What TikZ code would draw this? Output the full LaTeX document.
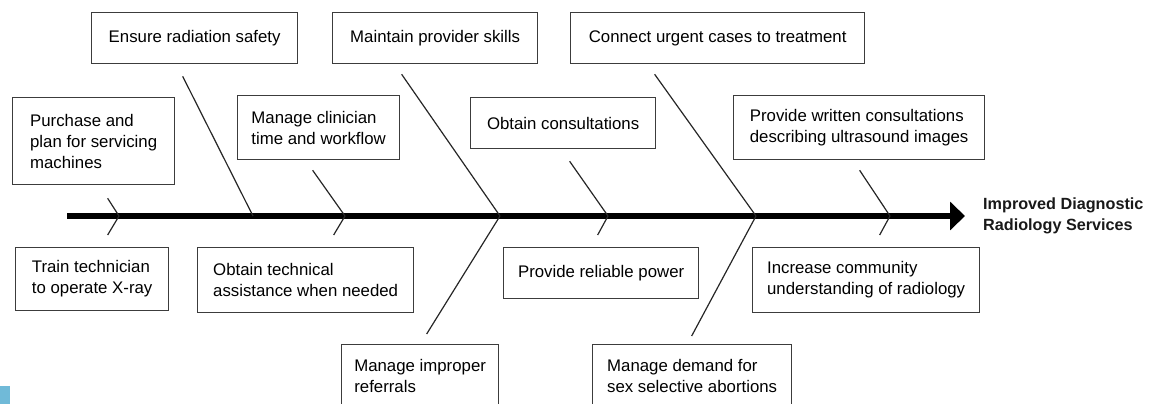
\documentclass[tikz,border=0pt]{standalone}
\usepackage{fontspec}
\setmainfont{Liberation Sans}
\usepackage{tikz}
\usetikzlibrary{arrows.meta}
\definecolor{cornerblue}{RGB}{112,186,216}
\definecolor{boxgray}{RGB}{60,60,60}

\begin{document}
\begin{tikzpicture}[x=1pt,y=-1pt]
	\tikzstyle{BoxStyle}   = [draw=boxgray, line width=1.3pt, anchor=north west, align=left, inner sep=0pt, font=\fontsize{16.8}{21}\selectfont]
	\tikzstyle{BoneStyle}  = [line width=1.2pt, black!85]
	\tikzstyle{SpineStyle} = [line width=5.5pt, -{Triangle[length=15pt,width=28pt]}, shorten >=18pt]
	\useasboundingbox (0,0) rectangle (1152,404);
	\clip (0,0) rectangle (1152,404);
	\fill[cornerblue] (0,386) rectangle (10,404);
	% upper row
	\node[BoxStyle, minimum width=206pt, minimum height=51pt] (ensure)   at (91,12)  {Ensure radiation safety};
	\node[BoxStyle, minimum width=205pt, minimum height=51pt] (maintain) at (332,12) {Maintain provider skills};
	\node[BoxStyle, minimum width=294pt, minimum height=51pt] (connect)  at (570,12) {Connect urgent cases to treatment};
	\node[BoxStyle, minimum width=162pt, minimum height=87pt] (purchase) at (12,97)  {Purchase and\\plan for servicing\\machines};
	\node[BoxStyle, minimum width=162pt, minimum height=64pt] (clinician) at (237,95) {Manage clinician\\time and workflow};
	\node[BoxStyle, minimum width=185pt, minimum height=51pt] (consult)  at (470,97) {Obtain consultations};
	\node[BoxStyle, minimum width=251pt, minimum height=64pt] (written)  at (733,95) {Provide written consultations\\describing ultrasound images};
	% lower row
	\node[BoxStyle, minimum width=153pt, minimum height=63pt] (train)    at (15,247)  {Train technician\\to operate X-ray};
	\node[BoxStyle, minimum width=216pt, minimum height=65pt] (assist)   at (197,247) {Obtain technical\\assistance when needed};
	\node[BoxStyle, minimum width=195pt, minimum height=51pt] (power)    at (503,247) {Provide reliable power};
	\node[BoxStyle, minimum width=227pt, minimum height=65pt] (community) at (752,247) {Increase community\\understanding of radiology};
	\node[BoxStyle, minimum width=157pt, minimum height=62pt] (referrals) at (341,344) {Manage improper\\referrals};
	\node[BoxStyle, minimum width=199pt, minimum height=62pt] (demand)   at (592,344) {Manage demand for\\sex selective abortions};
	% spine
	\node[anchor=west, align=left, inner sep=0pt, text=black!90, font=\bfseries\fontsize{16.2}{20.5}\selectfont] (goal) at (983,216) {Improved Diagnostic\\Radiology Services};
	\coordinate (tail) at (67,216);
	\draw[SpineStyle] (tail) -- (goal.west);
	\coordinate (j1) at (119,216);
	\coordinate (j2) at (253,216);
	\coordinate (j3) at (345,216);
	\coordinate (j4) at (500,216);
	\coordinate (j5) at (608,216);
	\coordinate (j6) at (756,216);
	\coordinate (j7) at (890,216);
	% bones
	\draw[BoneStyle] ([shift={(14,13)}]purchase.south) -- (j1);
	\draw[BoneStyle] ([shift={(-12,12)}]ensure.south) -- (j2);
	\draw[BoneStyle] ([shift={(-6,10)}]clinician.south) -- (j3);
	\draw[BoneStyle] ([shift={(-33.5,10)}]maintain.south) -- (j4);
	\draw[BoneStyle] ([shift={(6.5,12)}]consult.south) -- (j5);
	\draw[BoneStyle] ([shift={(-63,10)}]connect.south) -- (j6);
	\draw[BoneStyle] ([shift={(0.5,10)}]written.south) -- (j7);
	\draw[BoneStyle] ([shift={(15.5,-12)}]train.north) -- (j1);
	\draw[BoneStyle] ([shift={(28,-12)}]assist.north) -- (j3);
	\draw[BoneStyle] ([shift={(6.5,-10)}]referrals.north) -- (j4);
	\draw[BoneStyle] ([shift={(-3.5,-12)}]power.north) -- (j5);
	\draw[BoneStyle] ([shift={(-0.5,-8)}]demand.north) -- (j6);
	\draw[BoneStyle] ([shift={(13.5,-12)}]community.north) -- (j7);
\end{tikzpicture}
\end{document}
